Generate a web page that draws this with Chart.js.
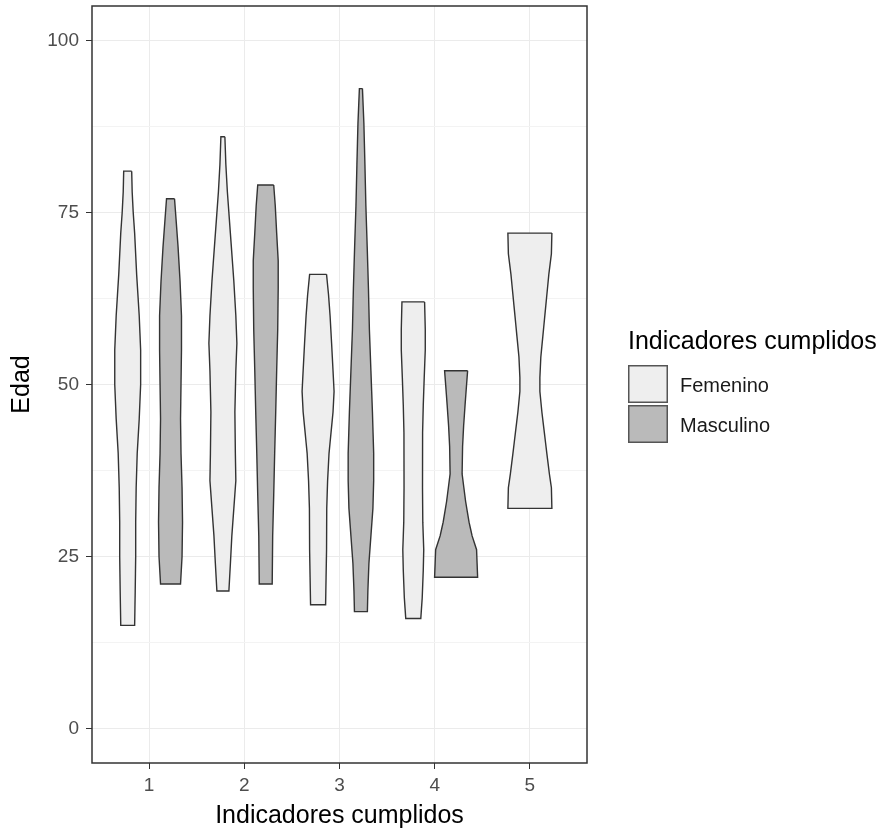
<!DOCTYPE html>
<html>
<head>
<meta charset="utf-8">
<script src="https://cdn.jsdelivr.net/npm/chart.js@4.4.1/dist/chart.umd.min.js"></script>
<style>
  html, body { margin: 0; padding: 0; background: #fff; }
</style>
</head>
<body>
<canvas id="violin" width="889" height="832"></canvas>
<script>
// categories on the x axis and the two groups
const indicadores = [1, 2, 3, 4, 5];
const sexos = ['Femenino', 'Masculino'];
const yTicks = [0, 25, 50, 75, 100];

// violin outlines: ages (top -> bottom) and the half width of the violin at each age (x units)
const femAges = [
    [81, 78, 75, 72, 66, 60, 55, 50, 45, 40, 35, 30, 25, 20, 15],
    [86, 82, 78, 74, 70, 65, 60, 56, 52, 46, 40, 36, 32, 28, 24, 20],
    [66, 63, 60, 56, 52, 49, 46, 43, 40, 36, 32, 26, 22, 18],
    [62, 58, 55, 51, 47, 43, 35, 30, 26, 23, 19, 16],
    [72, 69, 66, 63, 60, 57, 54, 51, 49, 46, 43, 40, 37, 35, 32]
];
const femWidth = [
    [0.042, 0.047, 0.058, 0.073, 0.094, 0.121, 0.136, 0.136, 0.121, 0.100, 0.089, 0.084, 0.084, 0.079, 0.073],
    [0.021, 0.031, 0.047, 0.068, 0.089, 0.115, 0.136, 0.147, 0.136, 0.126, 0.131, 0.136, 0.115, 0.094, 0.079, 0.063],
    [0.089, 0.110, 0.126, 0.142, 0.157, 0.168, 0.157, 0.136, 0.115, 0.100, 0.091, 0.089, 0.084, 0.079],
    [0.119, 0.126, 0.126, 0.115, 0.105, 0.098, 0.097, 0.100, 0.110, 0.105, 0.094, 0.079],
    [0.231, 0.226, 0.199, 0.178, 0.157, 0.136, 0.115, 0.105, 0.105, 0.126, 0.152, 0.178, 0.205, 0.226, 0.231]
];
// no Masculino data for 5 indicators
const mascAges = [
    [77, 74, 70, 65, 60, 55, 50, 45, 40, 35, 30, 25, 21],
    [79, 76, 72, 68, 64, 58, 52, 46, 40, 34, 28, 21],
    [93, 88, 82, 76, 70, 64, 58, 52, 46, 40, 36, 32, 28, 24, 20, 17],
    [52, 50, 47, 44, 41, 37, 33, 30, 28, 26, 22]
];
const mascWidth = [
    [0.042, 0.058, 0.079, 0.100, 0.115, 0.115, 0.110, 0.105, 0.110, 0.121, 0.126, 0.121, 0.105],
    [0.084, 0.100, 0.115, 0.131, 0.131, 0.126, 0.115, 0.105, 0.094, 0.084, 0.073, 0.068],
    [0.016, 0.031, 0.042, 0.052, 0.066, 0.079, 0.089, 0.105, 0.121, 0.134, 0.134, 0.126, 0.105, 0.084, 0.073, 0.068],
    [0.121, 0.110, 0.094, 0.079, 0.068, 0.063, 0.100, 0.136, 0.168, 0.215, 0.226]
];

const fills = ['#eeeeee', '#bababa'];
const outline = '#333333';
const font = '"Liberation Sans", Arial, sans-serif';
const dodge = 0.225;

// closed outline of one violin, in data units: down the right side, back up the left
function violinPoints(center, ages, widths) {
    const pts = [];
    for (let i = 0; i < ages.length; i++) {
        pts.push({ x: center + widths[i], y: ages[i] });
    }
    for (let i = ages.length - 1; i >= 0; i--) {
        pts.push({ x: center - widths[i], y: ages[i] });
    }
    pts.push(pts[0]);
    return pts;
}

const datasets = [];
indicadores.forEach((k, i) => {
    const hasMasc = !!mascAges[i];
    datasets.push({
        label: sexos[0] + ' ' + k,
        data: violinPoints(hasMasc ? k - dodge : k, femAges[i], femWidth[i]),
        backgroundColor: fills[0]
    });
    if (hasMasc) {
        datasets.push({
            label: sexos[1] + ' ' + k,
            data: violinPoints(k + dodge, mascAges[i], mascWidth[i]),
            backgroundColor: fills[1]
        });
    }
});
datasets.forEach(d => {
    d.showLine = true;
    d.fill = 'shape';
    d.borderColor = outline;
    d.borderWidth = 1.4;
    d.pointRadius = 0;
    // tiny tension keeps chart.js off its fast path (that one merges points sharing an x pixel)
    d.tension = 0.0001;
    d.capBezierPoints = false;
});

// panel border like theme_bw
const panelBorder = {
    id: 'panelBorder',
    afterDraw(chart) {
        const { ctx, chartArea: a } = chart;
        ctx.save();
        ctx.strokeStyle = outline;
        ctx.lineWidth = 1.5;
        ctx.strokeRect(a.left, a.top, a.right - a.left, a.bottom - a.top);
        ctx.restore();
    }
};

// legend drawn to the right of the panel
const sexLegend = {
    id: 'sexLegend',
    afterDraw(chart) {
        const ctx = chart.ctx;
        const x0 = chart.chartArea.right + 41;
        ctx.save();
        ctx.textBaseline = 'middle';
        ctx.fillStyle = '#000';
        ctx.font = '25px ' + font;
        ctx.fillText('Indicadores cumplidos', x0, 342);
        sexos.forEach((s, i) => {
            const y = 365 + i * 40;
            ctx.fillStyle = fills[i];
            ctx.fillRect(x0, y, 40, 38);
            ctx.strokeStyle = '#555';
            ctx.lineWidth = 1.5;
            ctx.strokeRect(x0 + 0.75, y + 0.75, 38.5, 36.5);
            ctx.fillStyle = '#1a1a1a';
            ctx.font = '20px ' + font;
            ctx.fillText(s, x0 + 52, y + 21);
        });
        ctx.restore();
    }
};

const chart = new Chart(document.getElementById('violin').getContext('2d'), {
    type: 'scatter',
    data: { datasets },
    options: {
        responsive: false,
        animation: false,
        layout: { padding: { top: 6, right: 302, left: 0, bottom: 0 } },
        plugins: {
            legend: { display: false },
            tooltip: { enabled: false }
        },
        scales: {
            x: {
                type: 'linear',
                min: 0.4,
                max: 5.6,
                afterBuildTicks: s => { s.ticks = indicadores.map(v => ({ value: v })); },
                afterFit: s => { s.height = 69; s.paddingLeft = 0; s.paddingRight = 0; },
                ticks: { color: '#4d4d4d', font: { size: 19, family: font }, padding: 5 },
                grid: { color: '#ebebeb', tickColor: outline, tickLength: 6 },
                border: { display: false },
                title: {
                    display: true,
                    text: 'Indicadores cumplidos',
                    color: '#000',
                    font: { size: 25, family: font },
                    padding: { top: 0, bottom: 1 }
                }
            },
            y: {
                min: -5,
                max: 105,
                afterBuildTicks: s => {
                    const t = [];
                    for (let v = 0; v <= 100; v += 12.5) t.push({ value: v });
                    s.ticks = t;
                },
                afterFit: s => { s.width = 92; s.paddingTop = 0; s.paddingBottom = 0; },
                ticks: {
                    color: '#4d4d4d',
                    font: { size: 19, family: font },
                    padding: 7,
                    callback: v => (yTicks.includes(v) ? v : '')
                },
                grid: {
                    color: c => (yTicks.includes(c.tick.value) ? '#ebebeb' : '#f3f3f3'),
                    tickColor: c => (yTicks.includes(c.tick.value) ? outline : 'rgba(0,0,0,0)'),
                    tickLength: 6
                },
                border: { display: false },
                title: {
                    display: true,
                    text: 'Edad',
                    color: '#000',
                    font: { size: 25, family: font },
                    padding: { top: 7, bottom: 0 }
                }
            }
        }
    },
    plugins: [panelBorder, sexLegend]
});
</script>
</body>
</html>
